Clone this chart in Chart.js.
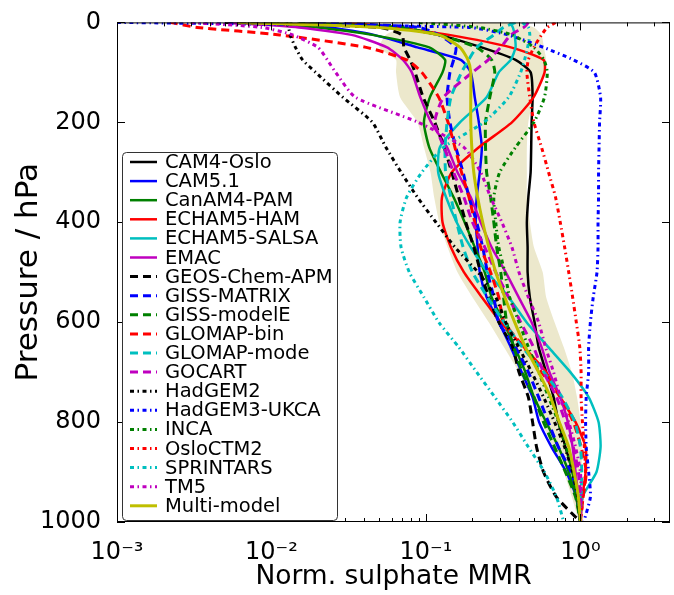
<!DOCTYPE html>
<html>
<head>
<meta charset="utf-8">
<script src="https://cdn.jsdelivr.net/npm/chart.js@4.4.1/dist/chart.umd.min.js"></script>
<style>
html, body { margin: 0; padding: 0; background: #fff; }
</style>
</head>
<body>
<canvas id="myChart" width="674" height="595"></canvas>
<script>
// pressure levels (hPa) shared by all profiles
const pressure = [0, 10, 25, 50, 75, 100, 150, 200, 250, 300, 350, 400, 450, 500, 550, 600, 650, 700, 750, 800, 850, 900, 950, 1000];

// normalised sulphate MMR, one value per pressure level
const cam4Oslo   = [0.015, 0.064, 0.121, 0.229, 0.38, 0.476, 0.49, 0.483, 0.48, 0.476, 0.46, 0.45, 0.455, 0.455, 0.47, 0.505, 0.536, 0.60, 0.67, 0.72, 0.80, 0.89, 0.94, 1.0];
const cam51      = [0.0072, 0.024, 0.046, 0.088, 0.168, 0.195, 0.207, 0.22, 0.23, 0.223, 0.213, 0.21, 0.216, 0.223, 0.247, 0.296, 0.354, 0.416, 0.49, 0.54, 0.65, 0.81, 0.94, 1.0];
const canam4Pam  = [0.005, 0.02, 0.045, 0.105, 0.133, 0.128, 0.106, 0.097, 0.105, 0.125, 0.151, 0.178, 0.207, 0.24, 0.266, 0.318, 0.375, 0.44, 0.50, 0.60, 0.72, 0.84, 0.94, 1.0];
const echamHam   = [0.03, 0.062, 0.141, 0.354, 0.577, 0.586, 0.497, 0.36, 0.22, 0.147, 0.127, 0.128, 0.145, 0.176, 0.23, 0.305, 0.43, 0.60, 0.74, 0.93, 1.08, 1.08, 1.03, 1.0];
const echamSalsa = [0.35, 0.365, 0.375, 0.38, 0.354, 0.296, 0.247, 0.166, 0.123, 0.12, 0.135, 0.158, 0.195, 0.25, 0.343, 0.448, 0.62, 0.86, 1.13, 1.31, 1.35, 1.27, 1.03, 1.0];
const emac       = [0.005, 0.015, 0.033, 0.056, 0.071, 0.081, 0.092, 0.108, 0.137, 0.16, 0.195, 0.226, 0.266, 0.328, 0.398, 0.483, 0.56, 0.63, 0.74, 0.83, 0.89, 0.93, 0.97, 1.0];
const geosApm    = [0.005, 0.05, 0.07, 0.072, 0.079, 0.085, 0.096, 0.114, 0.131, 0.147, 0.163, 0.181, 0.204, 0.226, 0.255, 0.296, 0.364, 0.40, 0.46, 0.49, 0.52, 0.577, 0.70, 1.0];
const gissMatrix = [0.02, 0.09, 0.121, 0.156, 0.151, 0.143, 0.137, 0.143, 0.156, 0.174, 0.19, 0.213, 0.233, 0.25, 0.275, 0.296, 0.38, 0.46, 0.536, 0.62, 0.72, 0.87, 0.97, 1.0];
const gissModelE = [0.01, 0.067, 0.121, 0.213, 0.266, 0.279, 0.259, 0.243, 0.243, 0.247, 0.262, 0.275, 0.287, 0.305, 0.318, 0.333, 0.37, 0.42, 0.50, 0.577, 0.68, 0.80, 0.93, 1.0];
const glomapBin  = [0.0022, 0.0033, 0.0113, 0.041, 0.075, 0.094, 0.121, 0.139, 0.154, 0.17, 0.19, 0.207, 0.226, 0.262, 0.296, 0.32, 0.43, 0.56, 0.74, 0.90, 1.01, 1.09, 1.04, 1.0];
const glomapMode = [0.38, 0.318, 0.275, 0.213, 0.189, 0.17, 0.145, 0.137, 0.133, 0.134, 0.145, 0.158, 0.174, 0.2, 0.25, 0.32, 0.42, 0.58, 0.76, 0.92, 1.0, 1.02, 1.01, 1.0];
const gocart     = [0.46, 0.43, 0.354, 0.305, 0.253, 0.2, 0.13, 0.114, 0.131, 0.151, 0.176, 0.2, 0.24, 0.283, 0.343, 0.41, 0.497, 0.577, 0.70, 0.80, 0.90, 0.97, 1.0, 1.0];
const hadgem2    = [0.0125, 0.0129, 0.0132, 0.0143, 0.0159, 0.0193, 0.029, 0.045, 0.055, 0.069, 0.088, 0.116, 0.154, 0.217, 0.283, 0.328, 0.398, 0.483, 0.577, 0.68, 0.79, 0.89, 0.96, 1.0];
const hadgem3    = [0.001, 0.19, 0.34, 0.577, 0.9, 1.23, 1.35, 1.33, 1.32, 1.31, 1.31, 1.3, 1.3, 1.28, 1.21, 1.16, 1.13, 1.13, 1.09, 1.08, 1.09, 1.13, 1.16, 1.05];
const inca       = [0.09, 0.22, 0.36, 0.5, 0.58, 0.61, 0.585, 0.5, 0.38, 0.3, 0.275, 0.283, 0.296, 0.324, 0.348, 0.4, 0.46, 0.536, 0.622, 0.72, 0.81, 0.89, 0.96, 1.0];
const osloCtm2   = [0.69, 0.61, 0.56, 0.5, 0.46, 0.45, 0.47, 0.5, 0.56, 0.622, 0.69, 0.74, 0.79, 0.84, 0.89, 0.94, 0.99, 1.01, 1.01, 1.03, 1.06, 1.08, 1.04, 1.0];
const sprintars  = [0.42, 0.46, 0.47, 0.455, 0.435, 0.41, 0.343, 0.237, 0.13, 0.094, 0.075, 0.068, 0.069, 0.078, 0.097, 0.121, 0.163, 0.213, 0.279, 0.364, 0.46, 0.585, 0.70, 0.78];
const tm5        = [0.003, 0.0086, 0.0137, 0.02, 0.023, 0.026, 0.035, 0.089, 0.176, 0.226, 0.262, 0.31, 0.36, 0.40, 0.46, 0.536, 0.594, 0.67, 0.74, 0.84, 0.93, 1.0, 1.01, 1.0];
const multiModel = [0.006, 0.05, 0.121, 0.166, 0.187, 0.195, 0.195, 0.195, 0.198, 0.204, 0.216, 0.233, 0.255, 0.283, 0.324, 0.375, 0.44, 0.536, 0.64, 0.73, 0.84, 0.91, 0.97, 1.0];

// multi-model spread (shaded)
const spreadLow  = [0.1, 0.07, 0.055, 0.05, 0.064, 0.064, 0.068, 0.088, 0.097, 0.107, 0.113, 0.122, 0.138, 0.16, 0.2, 0.255, 0.32, 0.4, 0.48, 0.56, 0.66, 0.78, 0.88, 0.98];
const spreadHigh = [0.4, 0.5, 0.56, 0.58, 0.6, 0.58, 0.5, 0.46, 0.45, 0.45, 0.45, 0.47, 0.5, 0.57, 0.6, 0.68, 0.78, 0.88, 0.95, 1.0, 1.02, 1.02, 1.01, 1.0];

const modelNames = ['CAM4-Oslo', 'CAM5.1', 'CanAM4-PAM', 'ECHAM5-HAM', 'ECHAM5-SALSA', 'EMAC',
  'GEOS-Chem-APM', 'GISS-MATRIX', 'GISS-modelE', 'GLOMAP-bin', 'GLOMAP-mode', 'GOCART',
  'HadGEM2', 'HadGEM3-UKCA', 'INCA', 'OsloCTM2', 'SPRINTARS', 'TM5', 'Multi-model'];
const modelData = [cam4Oslo, cam51, canam4Pam, echamHam, echamSalsa, emac,
  geosApm, gissMatrix, gissModelE, glomapBin, glomapMode, gocart,
  hadgem2, hadgem3, inca, osloCtm2, sprintars, tm5, multiModel];
const modelColors = ['#000000', '#0000ff', '#008000', '#ff0000', '#00bfbf', '#bf00bf',
  '#000000', '#0000ff', '#008000', '#ff0000', '#00bfbf', '#bf00bf',
  '#000000', '#0000ff', '#008000', '#ff0000', '#00bfbf', '#bf00bf', '#bfbf00'];
const modelStyles = ['solid', 'solid', 'solid', 'solid', 'solid', 'solid',
  'dashed', 'dashed', 'dashed', 'dashed', 'dashed', 'dashed',
  'dashdot', 'dashdot', 'dashdot', 'dashdot', 'dashdot', 'dashdot', 'solid'];

const xTickValues = [0.001, 0.01, 0.1, 1];
const xTickLabels = ['10⁻³', '10⁻²', '10⁻¹', '10⁰'];
const yTickValues = [0, 200, 400, 600, 800, 1000];

const dashFor = { solid: [], dashed: [8, 5], dashdot: [4, 3.5, 1.5, 3.5] };
const widthFor = { solid: 2.5, dashed: 3, dashdot: 3 };

Chart.defaults.font.family = "'DejaVu Sans', sans-serif";
Chart.defaults.color = '#000';

const toPoints = (vals, levs) => vals.map((v, i) => ({ x: v, y: levs[i] }));

let datasets = modelData.map((vals, i) => ({
  label: modelNames[i],
  data: toPoints(vals, pressure),
  showLine: true,
  borderColor: modelColors[i],
  borderWidth: i === 18 ? 3 : widthFor[modelStyles[i]],
  borderDash: dashFor[modelStyles[i]],
  borderCapStyle: 'butt',
  pointRadius: 0,
  tension: 0.2,
  fill: false,
  order: modelData.length - i
}));

// spread polygon: low edge down, high edge back up
datasets.push({
  data: toPoints(spreadLow, pressure).concat(toPoints(spreadHigh, pressure).reverse()),
  showLine: true,
  borderColor: 'rgba(0,0,0,0)',
  borderWidth: 0,
  backgroundColor: 'rgb(236,232,204)',
  pointRadius: 0,
  tension: 0.2,
  fill: 'shape',
  order: 100
});

//------------------------------ ticks + frame ------------------------------//
const frameTicks = {
  id: 'frameTicks',
  afterDatasetsDraw(chart) {
    const ctx = chart.ctx;
    const a = chart.chartArea;
    const x = chart.scales.x, y = chart.scales.y;
    ctx.save();
    ctx.strokeStyle = '#000';
    ctx.lineWidth = 1;
    ctx.beginPath();
    for (let d = 0.001; d < x.max; d *= 10) {
      for (let k = 1; k <= 9; k++) {
        const v = d * k;
        if (v > x.max) break;
        const px = Math.round(x.getPixelForValue(v)) + 0.5;
        const len = k === 1 ? 8 : 4;
        ctx.moveTo(px, a.bottom); ctx.lineTo(px, a.bottom - len);
        ctx.moveTo(px, a.top); ctx.lineTo(px, a.top + len);
      }
    }
    yTickValues.forEach(p => {
      const py = Math.round(y.getPixelForValue(p)) + 0.5;
      ctx.moveTo(a.left, py); ctx.lineTo(a.left + 8, py);
      ctx.moveTo(a.right, py); ctx.lineTo(a.right - 8, py);
    });
    ctx.stroke();
    ctx.strokeRect(a.left + 0.5, a.top + 0.5, a.right - a.left - 1, a.bottom - a.top - 1);
    ctx.restore();
  }
};

//------------------------------ legend inside the axes ------------------------------//
const insideLegend = {
  id: 'insideLegend',
  afterDraw(chart) {
    const ctx = chart.ctx;
    const items = chart.data.datasets.filter(d => d.label);
    const bx = 122.5, by = 152.5, bw = 215, bh = 368, r = 4;
    const rowH = 19.1, firstY = 162;
    ctx.save();
    ctx.beginPath();
    ctx.moveTo(bx + r, by);
    ctx.arcTo(bx + bw, by, bx + bw, by + bh, r);
    ctx.arcTo(bx + bw, by + bh, bx, by + bh, r);
    ctx.arcTo(bx, by + bh, bx, by, r);
    ctx.arcTo(bx, by, bx + bw, by, r);
    ctx.closePath();
    ctx.fillStyle = '#fff';
    ctx.fill();
    ctx.strokeStyle = '#333';
    ctx.lineWidth = 1;
    ctx.stroke();
    items.forEach((d, i) => {
      const yy = firstY + i * rowH;
      ctx.beginPath();
      ctx.setLineDash(d.borderDash);
      ctx.lineCap = 'butt';
      ctx.strokeStyle = d.borderColor;
      ctx.lineWidth = d.borderWidth;
      ctx.moveTo(130, yy);
      ctx.lineTo(157, yy);
      ctx.stroke();
      ctx.setLineDash([]);
      ctx.fillStyle = '#000';
      ctx.font = "19.5px 'DejaVu Sans'";
      ctx.textBaseline = 'middle';
      ctx.textAlign = 'left';
      ctx.fillText(d.label, 165, yy + 1);
    });
    ctx.restore();
  }
};

const ctx = document.getElementById('myChart').getContext('2d');
const myChart = new Chart(ctx, {
  type: 'scatter',
  data: { datasets: datasets },
  options: {
    responsive: false,
    animation: false,
    layout: { padding: { top: 21, right: 4, left: 0, bottom: 0 } },
    plugins: { legend: { display: false }, tooltip: { enabled: false } },
    scales: {
      x: {
        type: 'logarithmic',
        min: 0.001,
        max: 3.8,
        grid: { display: false },
        border: { display: false },
        afterBuildTicks: s => { s.ticks = xTickValues.map(v => ({ value: v })); },
        afterFit: s => { s.height = 73; },
        ticks: {
          autoSkip: false,
          maxRotation: 0,
          padding: 8,
          font: { size: 24 },
          callback: v => xTickLabels[xTickValues.indexOf(v)]
        },
        title: { display: true, text: 'Norm. sulphate MMR', font: { size: 26.5 }, padding: { top: 0, bottom: 2 } }
      },
      y: {
        type: 'linear',
        reverse: true,
        min: 0,
        max: 1000,
        grid: { display: false },
        border: { display: false },
        afterBuildTicks: s => { s.ticks = yTickValues.map(v => ({ value: v })); },
        afterFit: s => { s.width = 117; },
        ticks: { padding: 8, font: { size: 24 }, callback: v => String(v) },
        title: { display: true, text: 'Pressure / hPa', font: { size: 31 }, padding: { top: 10, bottom: 0 } }
      }
    }
  },
  plugins: [frameTicks, insideLegend]
});
</script>
</body>
</html>
